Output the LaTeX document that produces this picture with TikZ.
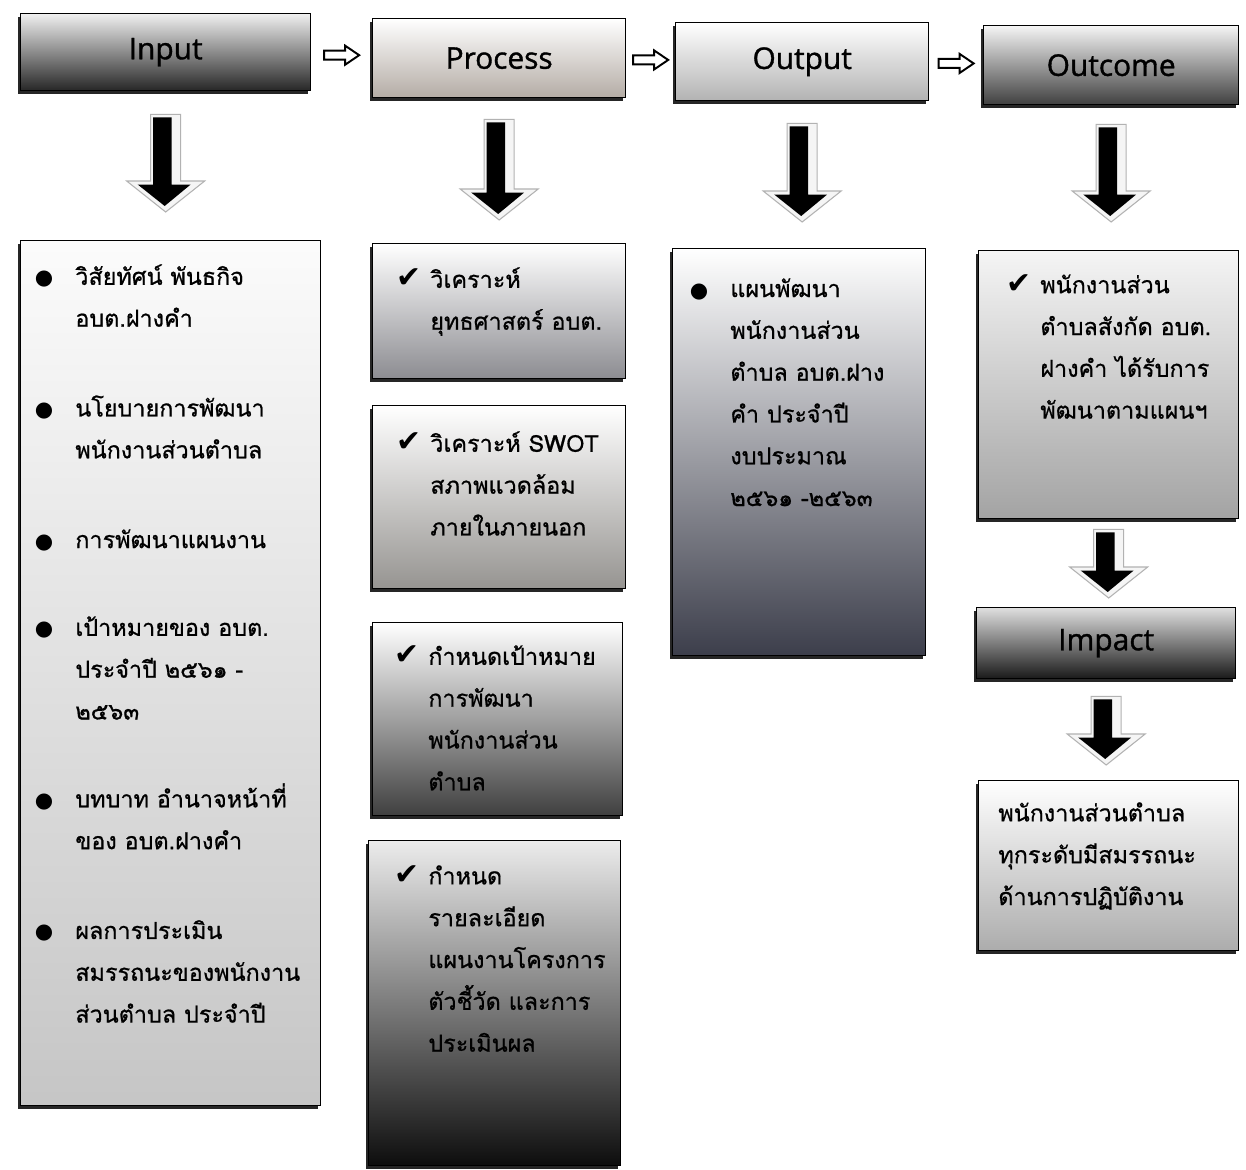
\documentclass[tikz,border=0pt]{standalone}
\usepackage{fontspec}
\setmainfont{Open Sans}
\newfontfamily\hdrfont[FakeBold=1.2]{Open Sans}
\newfontfamily\thaifont[Script=Thai, FakeBold=0.8]{Loma}
\newfontfamily\symfont{DejaVu Sans}
\usetikzlibrary{calc,shadows}

% bullet and check mark hanging left of the first line
\newcommand\bul{\llap{{\symfont\fontsize{12}{12}\selectfont ●}\hspace{0.44cm}}}
\newcommand\chk{\llap{{\symfont\fontsize{17}{17}\selectfont ✔}\hspace{0.18cm}}}

\tikzset{
  box/.style={draw=black, line width=0.8pt, anchor=north west,
    drop shadow={shadow xshift=-1.3pt, shadow yshift=-1.7pt, fill=black!85, opacity=1}},
  hdr/.style={box, font=\hdrfont\fontsize{17}{20}\selectfont},
  txt/.style={anchor=north west, inner sep=0pt, align=left,
    font=\thaifont\fontsize{13.3}{23.8}\selectfont},
}

% big 3d arrow pointing down between two nodes
\newcommand\blockdown[4]{%
  \path let \p1=(#1.south), \p2=(#2.north) in
    (\x1,\y1-#3cm) coordinate (bt) (\x1,\y2+#4cm) coordinate (bb);
  \draw[gray!60, fill=gray!8, line width=0.6pt] let \p1=(bt), \p2=(bb) in
    (\x1-0.3cm,\y1) -- (\x1+0.3cm,\y1) -- (\x1+0.3cm,\y2+0.62cm)
    -- (\x1+0.78cm,\y2+0.62cm) -- (\x2,\y2) -- (\x1-0.78cm,\y2+0.62cm)
    -- (\x1-0.3cm,\y2+0.62cm) -- cycle;
  \fill[black] let \p1=(bt), \p2=(bb) in
    (\x1-0.25cm,\y1-0.06cm) -- (\x1+0.12cm,\y1-0.06cm) -- (\x1+0.12cm,\y2+0.55cm)
    -- (\x1+0.5cm,\y2+0.55cm) -- (\x2-0.02cm,\y2+0.12cm) -- (\x1-0.56cm,\y2+0.55cm)
    -- (\x1-0.25cm,\y2+0.55cm) -- cycle;
}
% small hollow arrow between two headers
\newcommand\hollow[2]{%
  \draw[line width=1.1pt, fill=white] let \p1=(#1.east), \p2=(#2.west),
    \n1={(\x1+\x2)/2}, \n2={(\y1+\y2)/2} in
    (\n1-0.35cm,\n2+0.09cm) -- (\n1+0.07cm,\n2+0.09cm) -- (\n1+0.07cm,\n2+0.19cm)
    -- (\n1+0.35cm,\n2) -- (\n1+0.07cm,\n2-0.19cm) -- (\n1+0.07cm,\n2-0.09cm)
    -- (\n1-0.35cm,\n2-0.09cm) -- cycle;
}

\begin{document}
\begin{tikzpicture}[x=0.02cm, y=-0.02cm]
\fill[white] (0,0) rectangle (1246,1169);

% headers
\node[hdr, top color=gray!12, bottom color=black!85, minimum width=5.8cm, minimum height=1.54cm] (inH) at (20,13) {Input};
\node[hdr, top color=white, bottom color={rgb,255:red,180;green,172;blue,165}, minimum width=5.06cm, minimum height=1.58cm] (prH) at (372,18) {Process};
\node[hdr, top color=white, bottom color=gray!60, minimum width=5.06cm, minimum height=1.56cm] (ouH) at (675,22) {Output};
\node[hdr, top color=gray!8, bottom color=black!75, minimum width=5.1cm, minimum height=1.58cm] (ocH) at (983,25) {Outcome};
\node[hdr, top color=gray!25, middle color=gray!55, bottom color=black!90, minimum width=5.18cm, minimum height=1.42cm] (imH) at (976,607) {Impact};

\hollow{inH}{prH}
\hollow{prH}{ouH}
\hollow{ouH}{ocH}

% body boxes
\node[box, top color=gray!3, bottom color=gray!45, minimum width=6cm, minimum height=17.3cm] (inB) at (20,240) {};
\node[box, top color=white, bottom color={rgb,255:red,140;green,140;blue,145}, minimum width=5.06cm, minimum height=2.7cm] (pr1) at (372,243) {};
\node[box, top color=white, bottom color={rgb,255:red,150;green,148;blue,145}, minimum width=5.06cm, minimum height=3.66cm] (pr2) at (372,405) {};
\node[box, top color=white, middle color=gray!55, bottom color=black!75, minimum width=5cm, minimum height=3.86cm] (pr3) at (372,622) {};
\node[box, top color=gray!15, middle color=gray!20, bottom color=black!95, minimum width=5.04cm, minimum height=6.5cm] (pr4) at (368,840) {};
\node[box, top color=white, middle color={rgb,255:red,150;green,148;blue,160}, bottom color={rgb,255:red,60;green,62;blue,75}, minimum width=5.06cm, minimum height=8.14cm] (ouB) at (672,248) {};
\node[box, top color=gray!8, middle color=gray!40, bottom color=gray!72, minimum width=5.2cm, minimum height=5.36cm] (ocB) at (978,250) {};
\node[box, top color=white, bottom color=gray!65, minimum width=5.2cm, minimum height=3.4cm] (imB) at (978,780) {};

\blockdown{inH}{inB}{0.46}{0.56}
\blockdown{prH}{pr1}{0.42}{0.46}
\blockdown{ouH}{ouB}{0.44}{0.52}
\blockdown{ocH}{ocB}{0.38}{0.56}
\blockdown{ocB}{imH}{0.2}{0.18}
\blockdown{imH}{imB}{0.34}{0.3}

% texts
\node[txt] (inT) at (75,264) {\bul วิสัยทัศน์ พันธกิจ\\
  อบต.ฝางคำ\\[0.96cm]
  \bul นโยบายการพัฒนา\\
  พนักงานส่วนตำบล\\[0.96cm]
  \bul การพัฒนาแผนงาน\\[0.92cm]
  \bul เป้าหมายของ อบต.\\
  ประจำปี ๒๕๖๑ -\\
  ๒๕๖๓\\[0.92cm]
  \bul บทบาท อำนาจหน้าที่\\
  ของ อบต.ฝางคำ\\[0.96cm]
  \bul ผลการประเมิน\\
  สมรรถนะของพนักงาน\\
  ส่วนตำบล ประจำปี};
\node[txt] (pr1T) at (430,267) {\chk วิเคราะห์\\ ยุทธศาสตร์ อบต.};
\node[txt] (pr2T) at (430,431) {\chk วิเคราะห์ SWOT\\ สภาพแวดล้อม\\ ภายในภายนอก};
\node[txt] (pr3T) at (428,645) {\chk กำหนดเป้าหมาย\\ การพัฒนา\\ พนักงานส่วน\\ ตำบล};
\node[txt] (pr4T) at (428,865) {\chk กำหนด\\ รายละเอียด\\ แผนงานโครงการ\\ ตัวชี้วัด และการ\\ ประเมินผล};
\node[txt] (ouT) at (730,278) {\bul แผนพัฒนา\\ พนักงานส่วน\\ ตำบล อบต.ฝาง\\ คำ ประจำปี\\ งบประมาณ\\ ๒๕๖๑ -๒๕๖๓};
\node[txt] (ocT) at (1040,274) {\chk พนักงานส่วน\\ ตำบลสังกัด อบต.\\ ฝางคำ ได้รับการ\\ พัฒนาตามแผนฯ};
\node[txt] (imT) at (998,802) {พนักงานส่วนตำบล\\ ทุกระดับมีสมรรถนะ\\ ด้านการปฏิบัติงาน};
\end{tikzpicture}
\end{document}
